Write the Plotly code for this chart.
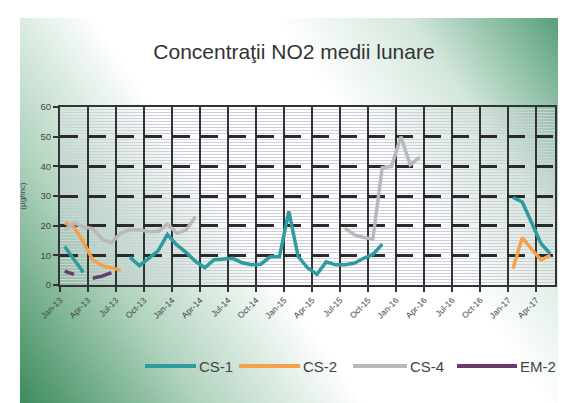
import base64
import plotly.graph_objects as go

# months: 0 = Jan-13 ... 52 = May-17
months = list(range(53))

tick_pos = [-0.5, 2.5, 5.5, 8.5, 11.5, 14.5, 17.5, 20.5, 23.5, 26.5, 29.5, 32.5,
            35.5, 38.5, 41.5, 44.5, 47.5, 50.5]
tick_labels = ["Jan-13", "Apr-13", "Jul-13", "Oct-13", "Jan-14", "Apr-14", "Jul-14", "Oct-14",
               "Jan-15", "Apr-15", "Jul-15", "Oct-15", "Jan-16", "Apr-16", "Jul-16", "Oct-16",
               "Jan-17", "Apr-17"]

cs1 = [13, 8.5, 4.2, None, None, None, None, 9.3, 6.5, 9, 11.5, 17, 13.5, 11, 8, 5.8, 8.5, 8.8,
       9, 7.5, 6.8, 7, 9.5, 9.6, 24.8, 9.6, 5.8, 3.6, 7.8, 6.8, 6.8, 7.3, 9, 10.3, 13.8,
       None, None, None, None, None, None, None, None, None, None, None, None, None,
       29.5, 28, 21, 14, 10.5]
cs2 = [21, 19.5, 14.5, 8.5, 6.5, 5.6, 5.0,
       None, None, None, None, None, None, None, None, None, None, None, None, None, None,
       None, None, None, None, None, None, None, None, None, None, None, None, None, None,
       None, None, None, None, None, None, None, None, None, None, None, None, None,
       5.5, 16, 12, 8.5, 10]
cs4 = [18.5, 21, 19.5, 19, 15.5, 14.2, 17.5, 18.6, 18.6, 18, 18, 20.5, 17.5, 18.5, 23,
       None, None, None, None, None, None, None, None, None, None, None, None, None, None, None,
       19.2, 17, 16, 15.5, 39.5, 40, 50, 40.5, 43,
       None, None, None, None, None, None, None, None, None, None, None, None, None, None]
em2 = [4.7, 3.6, None, 2.3, 3, 4.2,
       None, None, None, None, None, None, None, None, None, None, None, None, None, None,
       None, None, None, None, None, None, None, None, None, None, None, None, None, None,
       None, None, None, None, None, None, None, None, None, None, None, None, None, None,
       None, None, None, None, None]

series = [("CS-1", cs1, "#2e9c9e"), ("CS-2", cs2, "#f7a04c"),
          ("CS-4", cs4, "#b9b9bb"), ("EM-2", em2, "#6a3a6c")]

W, H = 566, 403
L, R, T, B = 52, 19, 99, 126
pw, ph = W - L - R, H - T - B

# slide background (green / white gradient)
svg = f'''<svg xmlns="http://www.w3.org/2000/svg" width="{W}" height="{H}">
<defs><linearGradient id="g" gradientUnits="userSpaceOnUse" x1="566" y1="10" x2="12" y2="400">
<stop offset="0" stop-color="#4a9870"/>
<stop offset="0.2" stop-color="#d3e7db"/>
<stop offset="0.36" stop-color="#ffffff"/>
<stop offset="0.58" stop-color="#ffffff"/>
<stop offset="0.78" stop-color="#b0d3be"/>
<stop offset="1" stop-color="#3a8a5a"/>
</linearGradient></defs>
<rect width="{W}" height="{H}" fill="#ffffff"/>
<rect x="12" y="10" width="{W-12}" height="{H-10}" fill="url(#g)"/>
</svg>'''
bg_src = "data:image/svg+xml;base64," + base64.b64encode(svg.encode()).decode()

fig = go.Figure()

for name, vals, col in series:
    fig.add_trace(go.Scatter(x=months, y=vals, mode='lines', name=name,
                             line=dict(color=col, width=3.5),
                             connectgaps=False, showlegend=False))

# legend drawn by hand (long line samples like the original)
leg_x = [137, 231, 345, 449]
leg_len = [51, 61, 54, 60]
for (name, vals, col), lx, ll in zip(series, leg_x, leg_len):
    y = (T + ph - 358) / ph
    fig.add_shape(type="line", xref="paper", yref="paper",
                  x0=(lx - L) / pw, x1=(lx + ll - L) / pw, y0=y, y1=y,
                  line=dict(color=col, width=4))
    fig.add_annotation(xref="paper", yref="paper", x=(lx + ll + 1 - L) / pw, y=y,
                       text=name, showarrow=False, xanchor="left", yanchor="middle",
                       font=dict(size=15, color="#444444"))

fig.add_layout_image(dict(source=bg_src, xref="paper", yref="paper",
                          x=-L / pw, y=1 + T / ph, sizex=W / pw, sizey=H / ph,
                          xanchor="left", yanchor="top", sizing="stretch", layer="below"))

fig.update_layout(
    width=W, height=H,
    margin=dict(l=L, r=R, t=T, b=B),
    paper_bgcolor="white",
    plot_bgcolor="#f3f3f8",
    font=dict(family="Liberation Sans, Arial, sans-serif", color="#333333"),
    title=dict(text="Concentraţii NO2 medii lunare", x=286 / W, xanchor="center",
               y=1 - 44 / H, yanchor="middle",
               font=dict(size=21, color="#333333")),
    xaxis=dict(
        range=[-0.5, 52.5],
        tickvals=tick_pos, ticktext=tick_labels,
        tickangle=-45,
        tickfont=dict(size=8.5, color="#444444"),
        ticks="outside", ticklen=5, tickwidth=1.5, tickcolor="#333333",
        showgrid=True, gridcolor="#333333", gridwidth=2,
        showline=True, linecolor="#333333", linewidth=2, mirror=True,
        zeroline=False,
    ),
    yaxis=dict(
        range=[0, 60], dtick=10,
        tickfont=dict(size=9.5, color="#444444"),
        ticks="outside", ticklen=5, tickwidth=1.5, tickcolor="#333333",
        showgrid=True, gridcolor="#2a2a2a", gridwidth=3, griddash="18px,9.93px",
        minor=dict(dtick=1, showgrid=True, gridcolor="#d0d0dc", gridwidth=1,
                   griddash="solid"),
        showline=True, linecolor="#333333", linewidth=2, mirror=True,
        zeroline=False,
        title=dict(text="(µg/mc)", font=dict(size=8, color="#444444"), standoff=14),
    ),
)

fig.write_html("out.html")
